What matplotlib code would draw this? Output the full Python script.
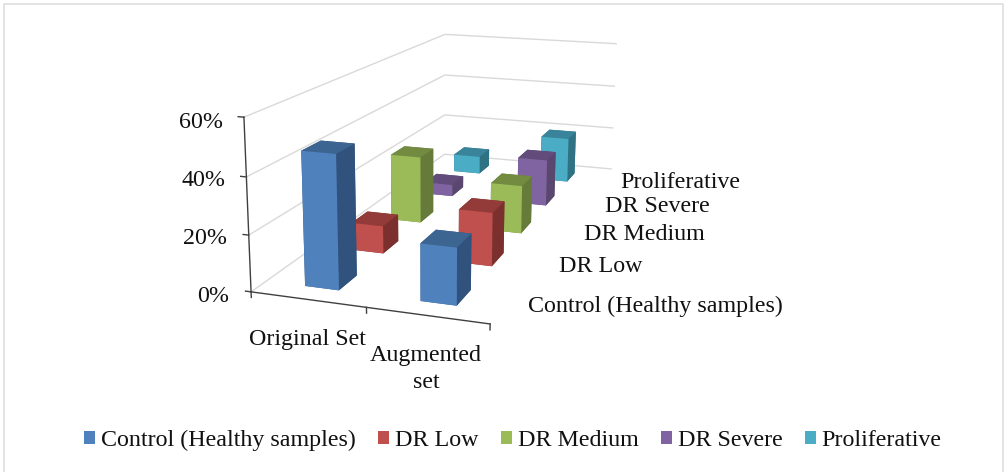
#!/usr/bin/env python3
"""3D column chart of sample shares per class, original vs augmented set."""
import matplotlib
matplotlib.use('Agg')
import matplotlib.pyplot as plt
from matplotlib.patches import Patch, Rectangle

W, H = 1005, 472
categories = ["Original Set", "Augmented\nset"]
series = ["Control (Healthy samples)", "DR Low", "DR Medium", "DR Severe", "Proliferative"]
original_set = [0.475, 0.105, 0.27, 0.05, 0.08]
augmented_set = [0.20, 0.20, 0.192, 0.197, 0.20]
z_ticks = [0, 0.2, 0.4, 0.6]
z_labels = ["0%", "20%", "40%", "60%"]

front = ["#4F81BD", "#C0504D", "#9BBB59", "#8064A2", "#4BACC6"]
side = ["#30527D", "#7C302E", "#667B3A", "#59476F", "#2F7284"]
top = ["#3C6591", "#933B39", "#728B40", "#614C7B", "#39849A"]

plt.rcParams['font.family'] = ['Liberation Serif', 'DejaVu Serif']
FS = 17.3


def px_text(x, y, s, **kw):
    fig.text(x / W, 1 - (y + 2) / H, s, fontsize=FS, color="#111111", va="center", **kw)


fig = plt.figure(figsize=(W / 100, H / 100), dpi=100)
# frame has no bottom edge in the picture, so run it off the canvas
fig.add_artist(Rectangle((4 / W, -10 / H), 999 / W, (H - 4 + 10) / H, transform=fig.transFigure,
                         facecolor="none", edgecolor="#DDDDDD", linewidth=1.1))

S, cx, cy = 544.42, 455.31, 316.66
ax = fig.add_axes([(cx - S / 2) / W, (cy - S / 2) / H, S / W, S / H], projection='3d')
ax.patch.set_alpha(0)
ax.set_axis_off()
ax.computed_zorder = False
ax.view_init(13.971, -71.919, -0.406)
ax.set_proj_type('persp', focal_length=0.3836)
ax.set_box_aspect((1.3964, 3.3124, 1))

bar_w, bar_d = 0.3, 0.38
for j in range(len(series) - 1, -1, -1):
    for i, vals in enumerate([original_set, augmented_set]):
        cols = [top[j], top[j], front[j], side[j], side[j], side[j]]
        ax.bar3d(i + 0.5 - bar_w / 2, j + 0.275, 0, bar_w, bar_d, vals[j],
                 color=cols, shade=False, linewidth=0, zorder=10 + (len(series) - j) * 2 + i)
ax.set_xlim(0, 2)
ax.set_ylim(0, 5)
ax.set_zlim(0, 0.6)

for z in z_ticks:
    ax.plot([0, 0, 2], [0, 5, 5], [z, z, z], color="#D9D9D9", lw=1, zorder=1)
    ax.plot([-0.05, 0], [0, 0], [z, z], color="#404040", lw=1, zorder=2)
ax.plot([0, 0], [0, 0], [0, 0.6], color="#404040", lw=1, zorder=2)
ax.plot([0, 2], [0, 0], [0, 0], color="#404040", lw=1, zorder=2)
for x in range(3):
    ax.plot([x, x], [0, 0], [0, -0.02], color="#404040", lw=1, zorder=2)

for lab, x, y in zip(z_labels, [229, 227, 225, 223], [294, 237, 179, 120]):
    px_text(x, y, lab, ha="right")
px_text(307, 337, categories[0], ha="center")
px_text(426, 367, categories[1], ha="center", linespacing=1.32, multialignment="center")
for lab, x, y in zip(series, [528, 559, 584, 605, 620], [304, 264, 232, 204, 180]):
    px_text(x, y, lab, ha="left")

handles = [Patch(facecolor=c, edgecolor="none") for c in front]
fig.legend(handles, series, ncol=5, frameon=False, fontsize=FS, loc="center",
           bbox_to_anchor=(513 / W, 1 - 440 / H), handlelength=0.46, handleheight=0.46,
           handletextpad=0.25, columnspacing=0.92, labelcolor="#111111")

fig.savefig("out.png", dpi=100)
